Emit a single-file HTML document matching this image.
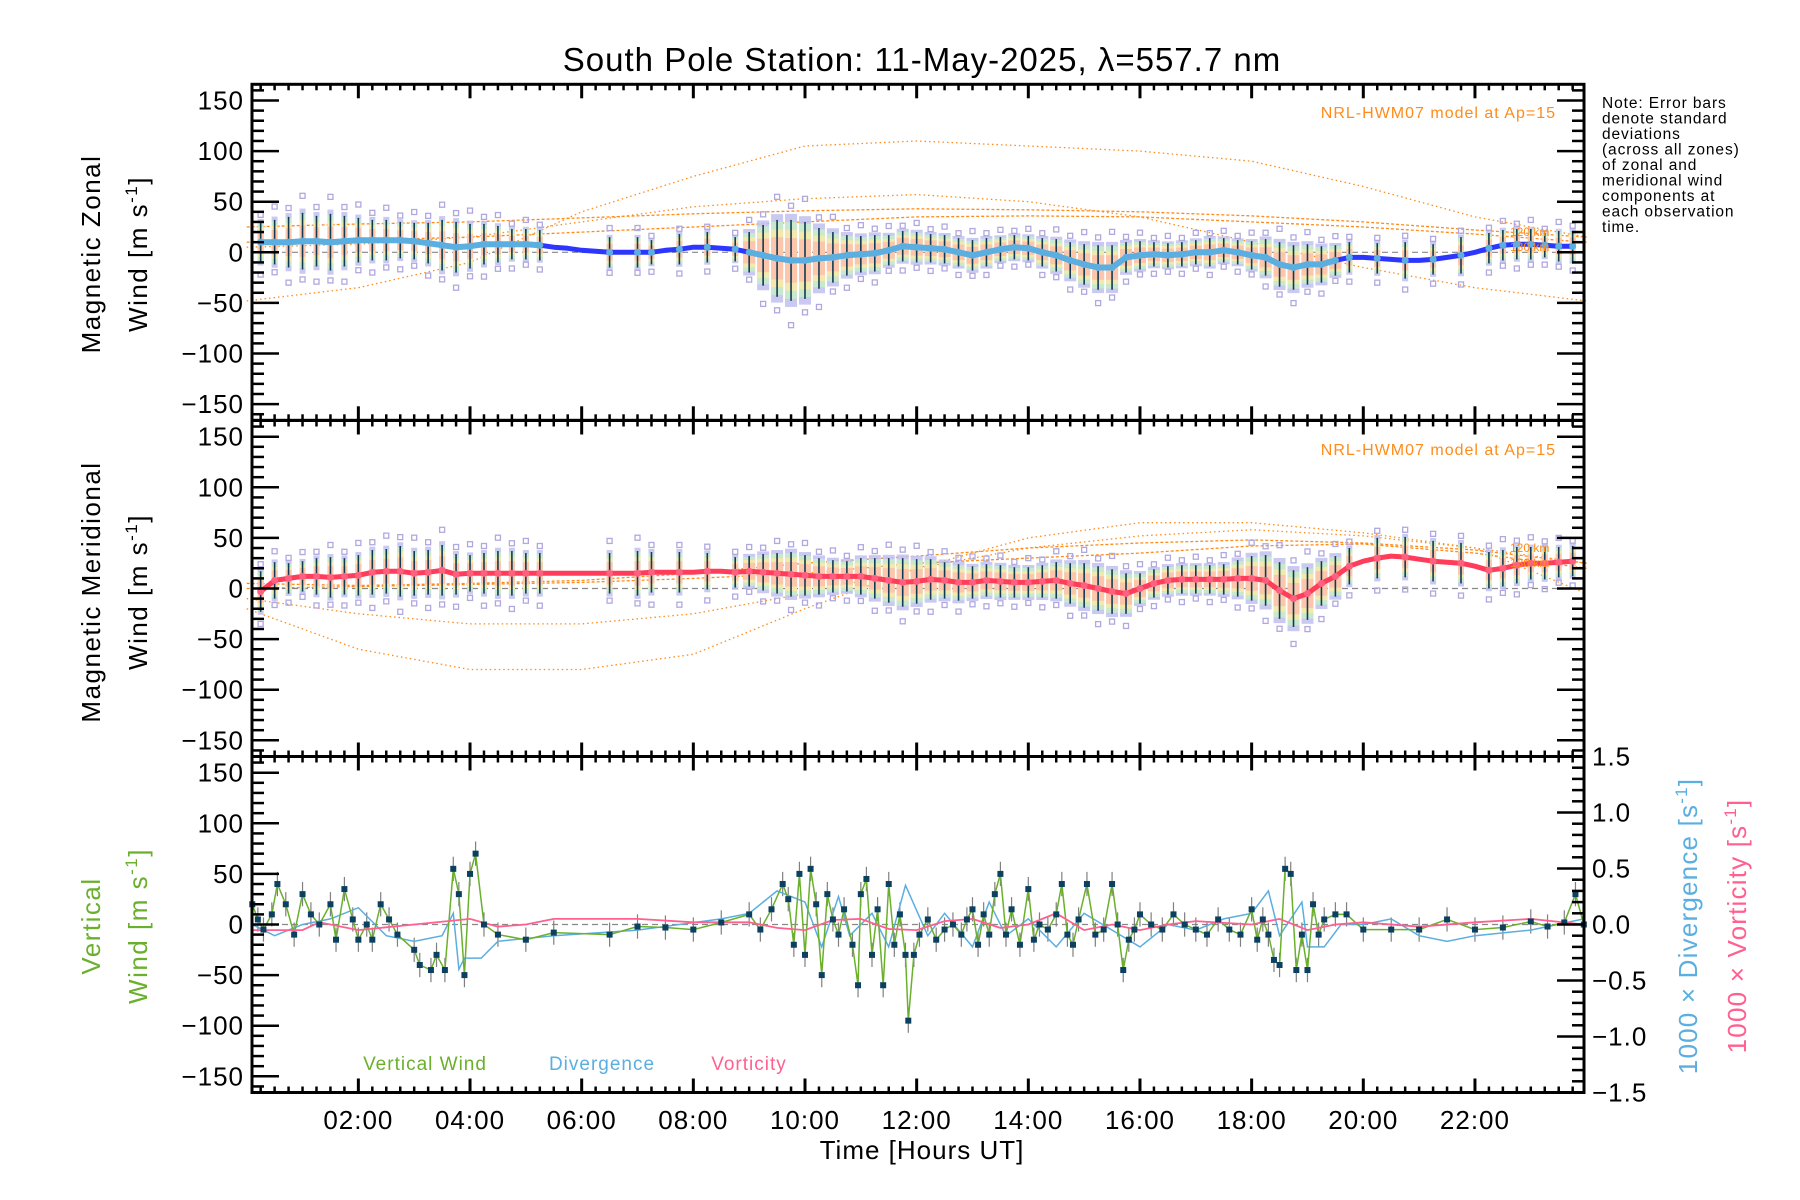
<!DOCTYPE html>
<html><head><meta charset="utf-8"><title>South Pole Station winds</title>
<style>
html,body{margin:0;padding:0;background:#fff;}
svg{display:block;font-family:"Liberation Sans",sans-serif;}
</style></head>
<body>
<svg id="chart" xmlns="http://www.w3.org/2000/svg" width="1800" height="1200" viewBox="0 0 1800 1200">
<rect x="0" y="0" width="1800" height="1200" fill="#fff"/>
<text x="922" y="71" font-size="33" letter-spacing="1" text-anchor="middle">South Pole Station: 11-May-2025, λ=557.7 nm</text>
<g id="plots"></g>
<text font-size="15.5" letter-spacing="0.9"><tspan x="1602" y="108">Note: Error bars</tspan><tspan x="1602" y="123.5">denote standard</tspan><tspan x="1602" y="139">deviations</tspan><tspan x="1602" y="154.5">(across all zones)</tspan><tspan x="1602" y="170">of zonal and</tspan><tspan x="1602" y="185.5">meridional wind</tspan><tspan x="1602" y="201">components at</tspan><tspan x="1602" y="216.5">each observation</tspan><tspan x="1602" y="232">time.</tspan></text>
<text x="922" y="1159" font-size="26" letter-spacing="1" text-anchor="middle">Time [Hours UT]</text>
<text transform="translate(100,254) rotate(-90)" font-size="26" letter-spacing="1.5" text-anchor="middle">Magnetic Zonal</text>
<text transform="translate(147,254) rotate(-90)" font-size="26" letter-spacing="1.5" text-anchor="middle">Wind [m s<tspan font-size="17" dy="-10">-1</tspan><tspan dy="10">]</tspan></text>
<text transform="translate(100,592) rotate(-90)" font-size="26" letter-spacing="1.5" text-anchor="middle">Magnetic Meridional</text>
<text transform="translate(147,592) rotate(-90)" font-size="26" letter-spacing="1.5" text-anchor="middle">Wind [m s<tspan font-size="17" dy="-10">-1</tspan><tspan dy="10">]</tspan></text>
<text transform="translate(100,926) rotate(-90)" font-size="26" letter-spacing="1.5" text-anchor="middle" fill="#6ab02c">Vertical</text>
<text transform="translate(147,926) rotate(-90)" font-size="26" letter-spacing="1.5" text-anchor="middle" fill="#6ab02c">Wind [m s<tspan font-size="17" dy="-10">-1</tspan><tspan dy="10">]</tspan></text>
<text transform="translate(1697,926) rotate(-90)" font-size="26" letter-spacing="1.2" text-anchor="middle" fill="#5aaee0">1000 × Divergence [s<tspan font-size="17" dy="-10">-1</tspan><tspan dy="10">]</tspan></text>
<text transform="translate(1746,926) rotate(-90)" font-size="26" letter-spacing="1.2" text-anchor="middle" fill="#ff6090">1000 × Vorticity [s<tspan font-size="17" dy="-10">-1</tspan><tspan dy="10">]</tspan></text>
<text x="425" y="1070" font-size="19" letter-spacing="1" text-anchor="middle" fill="#6ab02c">Vertical Wind</text>
<text x="602" y="1070" font-size="19" letter-spacing="1" text-anchor="middle" fill="#5aaee0">Divergence</text>
<text x="749" y="1070" font-size="19" letter-spacing="1" text-anchor="middle" fill="#ff6090">Vorticity</text>
<text x="1556" y="118" font-size="16" letter-spacing="1" text-anchor="end" fill="#ff8c1a">NRL-HWM07 model at Ap=15</text>
<text x="1556" y="455" font-size="16" letter-spacing="1" text-anchor="end" fill="#ff8c1a">NRL-HWM07 model at Ap=15</text>
<text x="1510" y="236" font-size="12" fill="#ff8c1a">120 km</text>
<text x="1510" y="251" font-size="12" fill="#ff8c1a">130 km</text>
<text x="1510" y="552" font-size="12" fill="#ff8c1a">120 km</text>
<text x="1510" y="567" font-size="12" fill="#ff8c1a">130 km</text>
</svg>
<script>
// ---------- data ----------
const gridStart = 0.25, gridStep = 0.25;
const zonalMean = [10,10,10,11,11,10,11,12,12,12,12,11,9,7,5,6,8,8,8,8,7,
 5,4,2,1,
 0,0,0,0,2,3,5,5,4,3,
 0,-3,-6,-8,-8,-6,-5,-3,-2,-1,2,6,5,4,3,0,-3,0,3,5,4,0,-3,-8,-12,-15,-15,-5,-3,-2,-3,-2,0,0,2,0,-3,-5,-12,-15,-12,-12,-8,
 -5,-5,-6,-7,-8,-8,-7,-5,-3,0,4,7,8,8,7,6,6];
const zonalStd = [20,22,25,28,25,28,25,22,20,20,18,18,20,25,25,22,20,18,15,15,15,
 null,null,null,null,
 15,null,15,12,null,15,null,15,null,12,
 20,30,38,40,38,30,25,20,18,18,15,15,15,14,14,14,15,14,12,12,12,14,16,18,20,22,22,15,14,12,12,12,12,14,12,12,14,18,22,22,20,18,15,
 15,null,15,null,18,null,15,null,18,null,15,15,15,15,12,15,15];
const meridMean = [-3,8,10,12,12,11,12,13,16,17,17,15,16,18,14,15,15,15,15,15,15,
 15,15,15,15,
 15,15,15,16,16,16,16,17,17,16,
 17,16,15,14,13,12,12,12,12,10,8,6,7,9,8,6,6,8,7,6,6,7,8,5,3,0,-3,-5,0,5,8,9,9,9,9,10,10,8,-2,-10,-5,5,12,
 22,27,30,32,31,29,27,26,25,22,18,20,23,25,25,26,27];
const meridStd = [20,18,15,15,18,20,18,20,22,22,25,22,22,25,20,18,20,22,22,20,20,
 null,null,null,null,
 20,null,22,20,null,20,null,18,null,15,
 15,18,20,22,20,18,16,15,18,20,22,24,22,20,18,18,16,16,16,15,15,16,18,20,22,22,22,20,15,14,14,14,14,14,15,18,22,25,28,28,26,22,20,
 18,null,20,null,20,null,20,null,20,null,18,18,18,16,16,15,15];

const modelHours = [0,2,4,6,8,10,12,14,16,18,20,22,24];
const zonalModelA = [-48,-35,-10,40,75,105,110,105,100,90,65,35,15];
const zonalModelB = [5,8,15,30,45,53,57,50,35,10,-15,-35,-48];
const zonalModel120 = [25,28,30,34,38,41,43,42,40,36,30,22,15];
const zonalModel130 = [10,12,15,20,25,30,35,36,35,30,25,18,10];
const meridModelA = [-20,-60,-80,-80,-65,-20,20,50,65,65,55,40,25];
const meridModelB = [-10,-25,-35,-35,-25,-5,20,40,52,58,52,40,-5];
const meridModel120 = [5,3,5,8,15,25,32,40,45,48,45,38,25];
const meridModel130 = [0,2,4,6,10,15,25,30,35,42,44,35,20];

const vertT = [0.1,0.2,0.3,0.45,0.55,0.7,0.85,1.0,1.15,1.3,1.5,1.6,1.75,1.9,2.0,2.15,2.25,2.4,2.55,2.7,3.0,3.1,3.3,3.4,3.55,3.7,3.8,3.9,4.0,4.1,4.25,4.5,5.0,5.5,6.5,7.0,7.5,8.0,8.5,9.0,9.2,9.4,9.6,9.7,9.8,9.9,10.0,10.1,10.2,10.3,10.4,10.5,10.6,10.7,10.85,10.95,11.0,11.1,11.2,11.3,11.4,11.5,11.6,11.7,11.8,11.85,11.95,12.05,12.2,12.35,12.5,12.65,12.8,12.9,13.0,13.1,13.2,13.3,13.4,13.5,13.6,13.7,13.85,14.0,14.1,14.2,14.35,14.5,14.6,14.7,14.8,14.9,15.05,15.2,15.35,15.5,15.6,15.7,15.8,15.9,16.0,16.2,16.4,16.6,16.8,17.0,17.2,17.4,17.6,17.8,18.0,18.1,18.2,18.3,18.4,18.5,18.6,18.7,18.8,18.9,19.0,19.1,19.2,19.3,19.5,19.7,20.0,20.5,21.0,21.5,22.0,22.5,23.0,23.3,23.6,23.8,23.95];
const vertW = [20,5,-5,10,40,20,-10,30,10,0,20,-15,35,5,-15,0,-15,20,5,-10,-25,-40,-45,-30,-45,55,30,-50,50,70,0,-10,-15,-8,-10,-2,-3,-5,2,10,-5,15,40,25,-20,50,-30,55,20,-50,30,5,-10,15,-20,-60,30,45,-30,15,-60,40,-20,10,-30,-95,-30,-10,5,-15,-5,0,-10,5,15,-20,10,-10,30,50,-10,15,-20,35,-15,0,-5,10,40,-10,-20,5,40,-10,-5,40,0,-45,-15,-5,10,0,-5,10,0,-5,-10,5,-5,-10,15,-15,5,-10,-35,-40,55,50,-45,-10,-45,20,-10,5,10,10,-5,-5,-5,5,-5,-3,3,-2,2,30,0];
const vertErr = 12;

const divT = [0.1,0.5,1.0,1.5,2.0,2.5,3.0,3.5,3.7,3.8,3.9,4.2,4.5,5.5,7.0,8.5,9.0,9.5,10.0,10.3,10.6,10.8,11.2,11.5,11.8,12.2,12.5,13.0,13.3,13.6,14.0,14.5,15.0,15.5,16.0,16.5,17.0,17.5,18.0,18.3,18.5,18.9,19.0,19.3,19.6,20.0,20.5,21.0,21.5,22.0,23.0,23.95];
const divV = [0.0,-0.1,0.0,0.05,0.15,-0.1,-0.15,-0.1,0.1,-0.4,-0.3,-0.3,-0.15,-0.1,-0.05,0.05,0.1,0.3,0.2,-0.2,0.25,-0.1,0.1,-0.2,0.35,-0.1,0.1,-0.2,0.2,-0.1,0.05,-0.2,0.1,-0.05,-0.2,0.0,-0.05,0.05,0.1,0.3,-0.1,0.2,-0.2,-0.2,0.0,0.0,0.05,-0.1,-0.15,-0.1,-0.05,0.05];
const vortT = [0.1,1.0,1.3,2.0,3.0,4.0,4.5,5.0,5.5,7.0,8.0,9.0,9.5,10.0,10.5,11.0,11.5,12.0,12.5,13.0,13.5,14.0,14.5,15.0,15.5,16.0,16.5,17.0,18.0,18.5,19.0,19.5,20.0,21.0,22.0,23.0,23.95];
const vortV = [-0.05,-0.05,0.02,-0.05,0.0,0.05,-0.02,0.0,0.05,0.05,0.02,0.02,-0.03,-0.05,0.04,0.05,-0.04,-0.05,0.03,0.05,-0.03,0.0,0.1,-0.05,0.0,-0.05,0.0,0.03,0.0,0.05,-0.05,0.0,0.02,-0.02,0.02,0.05,0.0];

const xTickLabels = ["02:00","04:00","06:00","08:00","10:00","12:00","14:00","16:00","18:00","20:00","22:00"];
const yTickLabels = ["150","100","50","0","−50","−100","−150"];
const rTickLabels = ["1.5","1.0","0.5","0.0","−0.5","−1.0","−1.5"];

// ---------- geometry ----------
const NS = "http://www.w3.org/2000/svg";
const L = 252, R = 1584;
const X = t => 246.7 + 55.83 * t;
const tMin = (L - 246.7) / 55.83, tMax = (R - 246.7) / 55.83;
const panelTops = [84.3, 420.5, 756.5];
const PH = 336;
const Y = (p, v) => panelTops[p] + PH / 2 - v * (PH / 2) / 166;
const YR = v => panelTops[2] + PH / 2 - v * (PH / 2) / 1.5;
const root = document.getElementById('plots');

function mk(tag, attrs, parent) {
  const e = document.createElementNS(NS, tag);
  for (const k in attrs) e.setAttribute(k, attrs[k]);
  (parent || root).appendChild(e);
  return e;
}
function group(name) {
  const g = mk('g', {});
  
  
  return g;
}
function pathFrom(ts, vs, yf) {
  let d = '';
  ts.forEach((t, i) => { if (vs[i] === null) return; d += (d ? 'L' : 'M') + X(t).toFixed(1) + ',' + yf(vs[i]).toFixed(1); });
  return d;
}
const gridT = zonalMean.map((_, i) => gridStart + i * gridStep);

// ---------- wind panels (zonal, meridional) ----------
function windPanel(p, mean, std, models, lineCol, name) {
  const g = group(name + '-series');
  const yf = v => Y(p, v);
  models.forEach((m, k) => {
    const c = mk('path', {d: pathFrom(modelHours, m, yf), fill: 'none', stroke: '#ff8c1a', 'stroke-width': 1.3, 'stroke-dasharray': k >= 2 ? '3,2' : '1.5,3'}, g);
    
    
  });
  const z = mk('line', {x1: L, x2: R, y1: yf(0), y2: yf(0), stroke: '#888', 'stroke-width': 1.2, 'stroke-dasharray': '6,4'}, g);
  
  
  gridT.forEach((t, i) => {
    const s = std[i];
    if (s === null) return;
    const m = mean[i], x = X(t);
    const dense = t >= 9 && t <= 19.5;
    const w = dense ? 12 : 6;
    const cols = ['#c0c0f0', '#c8eec8', '#fae7a8', '#fbbfaa'];
    cols.forEach((c, k) => {
      const f = 1.15 - k * 0.2;
      mk('rect', {x: x - w / 2, y: yf(m + s * f), width: w, height: Math.max(1, yf(m - s * f) - yf(m + s * f)), fill: c, opacity: 0.85}, g);
    });
    const b = mk('line', {x1: x, x2: x, y1: yf(m + s), y2: yf(m - s), stroke: '#123a52', 'stroke-width': 1.6}, g);
    
    
    const fs = (i % 2 === 0) ? [1.35, -1.6] : [1.6, -1.35];
    fs.forEach(f => {
      mk('rect', {x: x - 2.5, y: yf(m + s * f) - 2.5, width: 5, height: 5, fill: 'none', stroke: '#b0a8e0', 'stroke-width': 1.3}, g);
    });
  });
  const ln = mk('path', {d: pathFrom(gridT, mean, yf), fill: 'none', stroke: lineCol, 'stroke-width': 5, 'stroke-linejoin': 'round'}, g);
  
  
  if (p === 0) {
    const act = gridT.map((t, i) => (t >= 0 && t <= 5.25) || (t >= 9 && t <= 19.5) ? mean[i] : null);
    let d = '', prev = false;
    gridT.forEach((t, i) => { if (act[i] === null) { prev = false; return; } d += (prev ? 'L' : 'M') + X(t).toFixed(1) + ',' + yf(act[i]).toFixed(1); prev = true; });
    const l2 = mk('path', {d: d, fill: 'none', stroke: '#5aaee0', 'stroke-width': 6, 'stroke-linejoin': 'round'}, g);
    
    
  }
  gridT.forEach((t, i) => {
    if (std[i] === null) return;
    const dot = mk('circle', {cx: X(t), cy: yf(mean[i]), r: 3.5, fill: p === 0 ? '#5aaee0' : '#ff6080'}, g);
    
    
  });
}
windPanel(0, zonalMean, zonalStd, [zonalModelA, zonalModelB, zonalModel120, zonalModel130], '#2c36ff', 'zonal');
windPanel(1, meridMean, meridStd, [meridModelA, meridModelB, meridModel120, meridModel130], '#ff3c5a', 'meridional');

// ---------- bottom panel ----------
(function () {
  const g = group('vertical-panel-series');
  const yf = v => Y(2, v);
  const z = mk('line', {x1: L, x2: R, y1: yf(0), y2: yf(0), stroke: '#888', 'stroke-width': 1.2, 'stroke-dasharray': '6,4'}, g);
  
  
  vertT.forEach((t, i) => {
    const e = mk('line', {x1: X(t), x2: X(t), y1: yf(vertW[i] + vertErr), y2: yf(vertW[i] - vertErr), stroke: '#808080', 'stroke-width': 1.2}, g);
    
    
  });
  const dv = mk('path', {d: pathFrom(divT, divV, YR), fill: 'none', stroke: '#5aaee0', 'stroke-width': 1.5}, g);
  
  
  const vw = mk('path', {d: pathFrom(vertT, vertW, yf), fill: 'none', stroke: '#6ab02c', 'stroke-width': 1.5}, g);
  
  
  const vo = mk('path', {d: pathFrom(vortT, vortV, YR), fill: 'none', stroke: '#ff6090', 'stroke-width': 1.8}, g);
  
  
  vertT.forEach((t, i) => {
    const s = mk('rect', {x: X(t) - 3, y: yf(vertW[i]) - 3, width: 6, height: 6, fill: '#0c4060'}, g);
    
    
  });
})();

// ---------- axes ----------
(function () {
  const g = group('axes');
  for (let p = 0; p < 3; p++) {
    const top = panelTops[p], bot = top + PH;
    const fr = mk('rect', {x: L, y: top, width: R - L, height: PH, fill: 'none', stroke: '#000', 'stroke-width': 3}, g);
    
    
    for (let v = -160; v <= 160; v += 10) {
      const major = v % 50 === 0;
      const len = major ? 27 : 12;
      const y = Y(p, v);
      mk('line', {x1: L, x2: L + len, y1: y, y2: y, stroke: '#000', 'stroke-width': 2.5}, g);
      if (p < 2) mk('line', {x1: R, x2: R - len, y1: y, y2: y, stroke: '#000', 'stroke-width': 2.5}, g);
    }
    yTickLabels.forEach((lab, k) => {
      const t = mk('text', {x: L - 8, y: Y(p, 150 - 50 * k) + 9, 'font-size': 26, 'letter-spacing': 1, 'text-anchor': 'end'}, g);
      t.textContent = lab;
      
      
    });
    for (let m = 0; m <= 24 * 4; m++) {
      const t = m / 4;
      if (t < tMin || t > tMax) continue;
      const major = m % 8 === 0;
      const len = major ? 14 : 6;
      mk('line', {x1: X(t), x2: X(t), y1: bot, y2: bot - len, stroke: '#000', 'stroke-width': major ? 3 : 2.5}, g);
      mk('line', {x1: X(t), x2: X(t), y1: top, y2: top + len, stroke: '#000', 'stroke-width': major ? 3 : 2.5}, g);
    }
  }
  for (let k = -15; k <= 15; k++) {
    const v = k / 10, y = YR(v);
    const len = k % 5 === 0 ? 27 : 12;
    mk('line', {x1: R, x2: R - len, y1: y, y2: y, stroke: '#000', 'stroke-width': 2.5}, g);
  }
  rTickLabels.forEach((lab, k) => {
    const t = mk('text', {x: R + 8, y: YR(1.5 - 0.5 * k) + 9, 'font-size': 26, 'letter-spacing': 1}, g);
    t.textContent = lab;
    
    
  });
  xTickLabels.forEach((lab, k) => {
    const t = mk('text', {x: X(2 + 2 * k), y: 1129, 'font-size': 26, 'letter-spacing': 1, 'text-anchor': 'middle'}, g);
    t.textContent = lab;
    
    
  });
})();
</script>
</body></html>
